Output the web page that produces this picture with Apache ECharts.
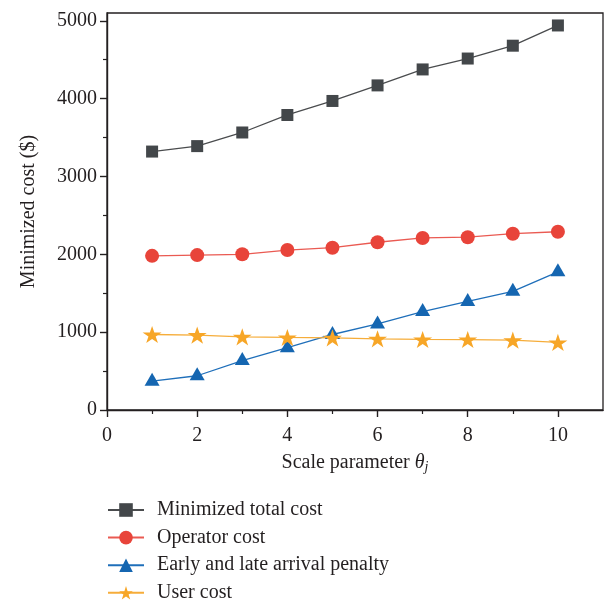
<!DOCTYPE html>
<html>
<head>
<meta charset="utf-8">
<script src="https://cdn.jsdelivr.net/npm/echarts@6/dist/echarts.min.js"></script>
<style>
  html, body { margin: 0; padding: 0; background: #ffffff; }
  #chart { width: 605px; height: 603px; }
</style>
</head>
<body>
<div id="chart"></div>
<script>
// Scale parameter values on the x axis
const thetaValues = [1, 2, 3, 4, 5, 6, 7, 8, 9, 10];

// Cost components ($) for each scale parameter
const totalCost    = [3320, 3390, 3565, 3790, 3970, 4170, 4375, 4515, 4680, 4940];
const operatorCost = [1980, 1990, 2000, 2055, 2085, 2155, 2210, 2220, 2265, 2290];
const penaltyCost  = [370, 440, 635, 800, 970, 1105, 1265, 1395, 1525, 1775];
const userCost     = [970, 962, 940, 932, 927, 914, 906, 905, 897, 868];

const seriesNames = [
  'Minimized total cost',
  'Operator cost',
  'Early and late arrival penalty',
  'User cost'
];

// Tick positions
const xMajorTicks = [0, 2, 4, 6, 8, 10];
const xMinorTicks = [1, 3, 5, 7, 9];
const yMajorTicks = [0, 1000, 2000, 3000, 4000, 5000];
const yMinorTicks = [500, 1500, 2500, 3500, 4500];

const FONT = 'Liberation Serif';
const FS = 20;
const INK = '#231f20';
const STAR = 'path://M100,0 L122.45,69.1 L195.1,69.1 L136.3,111.8 L158.8,180.9 L100,138.2 L41.2,180.9 L63.7,111.8 L4.9,69.1 L77.55,69.1 Z';

const pairs = ys => thetaValues.map((x, i) => [x, ys[i]]);
const plain = v => String(v);

const chart = echarts.init(document.getElementById('chart'), null, { renderer: 'canvas' });

const axisLine = { show: true, lineStyle: { color: INK, width: 1.4 } };

chart.setOption({
  animation: false,
  backgroundColor: '#ffffff',
  grid: {
    left: 107, right: 2, top: 13, bottom: 193,
    show: true, borderColor: INK, borderWidth: 1.3, backgroundColor: 'transparent'
  },
  legend: {
    orient: 'vertical',
    left: 107,
    top: 500,
    padding: 0,
    itemWidth: 36,
    itemHeight: 17,
    itemGap: 7.6,
    data: seriesNames,
    textStyle: { fontFamily: FONT, fontSize: FS, color: INK, lineHeight: 20, padding: [0, 0, 0, 8] }
  },
  xAxis: [
    {
      type: 'value', min: 0, max: 11, position: 'bottom',
      name: 'Scale parameter {t|θ}{j|j}',
      nameLocation: 'middle', nameGap: 42,
      nameTextStyle: {
        fontFamily: FONT, fontSize: FS, color: INK, lineHeight: 22,
        rich: {
          t: { fontFamily: FONT, fontSize: FS, fontStyle: 'italic', color: INK, lineHeight: 22 },
          j: { fontFamily: FONT, fontSize: 14, fontStyle: 'italic', color: INK, lineHeight: 8, verticalAlign: 'bottom' }
        }
      },
      axisLine: axisLine,
      axisTick: { show: true, inside: false, length: 7, customValues: xMajorTicks, lineStyle: { color: INK, width: 1.4 } },
      axisLabel: { show: true, customValues: xMajorTicks, margin: 16, fontFamily: FONT, fontSize: FS, color: INK, formatter: plain },
      splitLine: { show: false }
    },
    {
      type: 'value', min: 0, max: 11, position: 'bottom',
      axisLine: { show: false },
      axisTick: { show: true, inside: false, length: 4, customValues: xMinorTicks, lineStyle: { color: INK, width: 1.2 } },
      axisLabel: { show: false },
      splitLine: { show: false }
    }
  ],
  yAxis: [
    {
      type: 'value', min: 0, max: 5100, position: 'left',
      name: 'Minimized cost ($)',
      nameLocation: 'middle', nameGap: 68,
      nameTextStyle: { fontFamily: FONT, fontSize: FS, color: INK },
      axisLine: axisLine,
      axisTick: { show: true, inside: false, length: 7, customValues: yMajorTicks, lineStyle: { color: INK, width: 1.4 } },
      axisLabel: { show: true, customValues: yMajorTicks, margin: 10, fontFamily: FONT, fontSize: FS, color: INK, formatter: plain },
      splitLine: { show: false }
    },
    {
      type: 'value', min: 0, max: 5100, position: 'left',
      axisLine: { show: false },
      axisTick: { show: true, inside: false, length: 4, customValues: yMinorTicks, lineStyle: { color: INK, width: 1.2 } },
      axisLabel: { show: false },
      splitLine: { show: false }
    }
  ],
  series: [
    {
      name: seriesNames[0], type: 'line', data: pairs(totalCost),
      symbol: 'rect', symbolSize: 12,
      lineStyle: { color: '#4a4c4e', width: 1.3 },
      itemStyle: { color: '#43474a' }
    },
    {
      name: seriesNames[1], type: 'line', data: pairs(operatorCost),
      symbol: 'circle', symbolSize: 14,
      lineStyle: { color: '#ea5a52', width: 1.3 },
      itemStyle: { color: '#e8443a' }
    },
    {
      name: seriesNames[2], type: 'line', data: pairs(penaltyCost),
      symbol: 'triangle', symbolSize: [15, 13], symbolOffset: [0, -2],
      lineStyle: { color: '#1f6fba', width: 1.3 },
      itemStyle: { color: '#1566b1' }
    },
    {
      name: seriesNames[3], type: 'line', data: pairs(userCost),
      symbol: STAR, symbolSize: [19, 18], symbolKeepAspect: true,
      lineStyle: { color: '#f6ad3a', width: 1.3 },
      itemStyle: { color: '#f7a627' }
    }
  ]
});
</script>
</body>
</html>
